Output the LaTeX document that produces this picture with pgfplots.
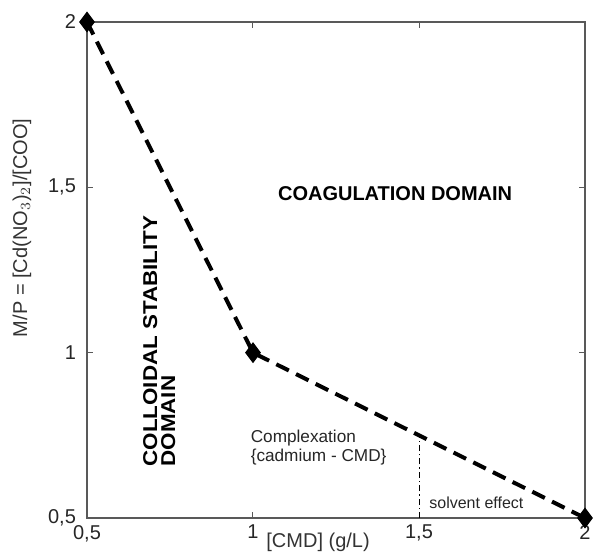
\documentclass[border=0pt]{standalone}
\usepackage{fontspec}
\setmainfont{Liberation Sans}
\usepackage{pgfplots}
\pgfplotsset{compat=1.18}
\begin{document}
\begin{tikzpicture}
\begin{axis}[
  scale only axis,
  width=249pt, height=248pt,
  xmin=0.5, xmax=2, ymin=0.5, ymax=2,
  xtick={0.5,1,1.5,2}, ytick={0.5,1,1.5,2},
  xticklabels={{0,5},1,{1,5},2},
  yticklabels={{0,5},1,{1,5},2},
  tick align=inside,
  major tick length=3pt,
  axis line style={gray!70!black, line width=0.7pt},
  tick style={gray!70!black, line width=0.5pt},
  ticklabel style={font=\fontsize{10}{11}\selectfont, text=black!85},
  yticklabel style={xshift=-2pt},
  xlabel={[CMD] (g/L)},
  ylabel={M/P = [Cd(NO$_3$)$_2$]/[COO]},
  label style={font=\fontsize{10}{11}\selectfont, text=black!80},
  xlabel style={at={([yshift=-14.8pt]rel axis cs:0.464,0)}, anchor=base},
  ylabel style={at={([xshift=-32.5pt]rel axis cs:0,0.585)}, anchor=center},
  clip=false,
]
\addplot[black, line width=2pt, dash pattern=on 7pt off 4pt,
  mark=diamond*, mark size=3.6pt, mark options={solid, fill=black}]
  coordinates {(0.5,2) (1,1) (2,0.5)};
\addplot[black, line width=0.5pt, dash pattern=on 3pt off 1.5pt on 0.7pt off 1.5pt]
  coordinates {(1.5,0.5) (1.5,0.75)};
\node[font=\bfseries\fontsize{10}{11}\selectfont] at (axis cs:1.428,1.48) {COAGULATION DOMAIN};
\node[font=\bfseries\fontsize{10}{10.5}\selectfont, rotate=90] at (axis cs:0.726,1.035) {\scalebox{1.12}[1]{\begin{tabular}{@{}l@{}}COLLOIDAL STABILITY\\[-1.5pt]DOMAIN\end{tabular}}};
\node[font=\fontsize{8.6}{9.6}\selectfont, align=left, anchor=west, text=black!85] at (axis cs:0.972,0.712) {Complexation\\\{cadmium - CMD\}};
\node[font=\fontsize{8}{9}\selectfont, anchor=west, text=black!85] at (axis cs:1.51,0.545) {solvent effect};
\coordinate (bl) at (rel axis cs:0,0);
\coordinate (tr) at (rel axis cs:1,1);
\end{axis}
\pgfresetboundingbox
\path[use as bounding box] ([xshift=-43.5pt,yshift=-16.8pt]bl) rectangle ([xshift=15.5pt,yshift=11pt]tr);
\end{tikzpicture}
\end{document}
